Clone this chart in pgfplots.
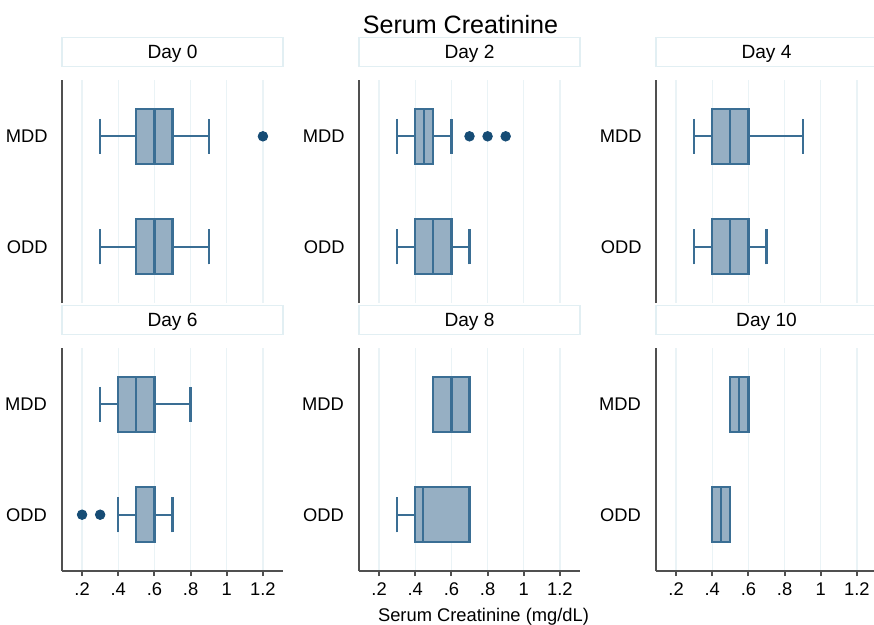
\documentclass[border=0pt]{standalone}
\usepackage{fontspec}
\setmainfont{Liberation Sans}
\usepackage{pgfplots}
\pgfplotsset{compat=1.18}
\usepgfplotslibrary{statistics}
\definecolor{boxc}{RGB}{150,175,195}
\definecolor{edgec}{RGB}{58,110,148}
\definecolor{outc}{RGB}{22,76,117}
\definecolor{gridc}{RGB}{234,243,246}
\definecolor{stripc}{RGB}{226,239,243}
\definecolor{axc}{RGB}{80,80,80}
\pgfplotsset{
  panel/.style={
    scale only axis, width=110.5bp, height=111.5bp,
    anchor=south west,
    xmin=0.089, xmax=1.311, ymin=0.49, ymax=2.51,
    xtick={0.2,0.4,0.6,0.8,1,1.2},
    ytick={1,2}, yticklabels={ODD,MDD},
    xmajorgrids, major grid style={draw=gridc, line width=0.7bp},
    axis y line=left, axis x line*=bottom,
    axis line style={-, draw=axc, line width=1.2bp},
    y axis line style={-, draw=axc, line width=1.2bp},
    ytick style={draw=none},
    tick label style={font=\fontsize{9.2}{11}\selectfont},
    /pgf/number format/assume math mode=true,
    yticklabel style={xshift=-1.5bp},
    title style={at={(0.5,1)}, anchor=south, yshift=0.5bp, draw=stripc, fill=white,
      line width=0.6bp, minimum width=110.5bp, minimum height=14.5bp, inner sep=0pt,
      text height=6.9bp, text depth=0pt, font=\fontsize{9.6}{11.5}\selectfont},
    clip=false,
    boxplot/box extend=0.5, boxplot/whisker extend=0.32,
  },
  toprow/.style={panel, x axis line style={draw=none}, xtick style={draw=none}, xticklabels={}},
  botrow/.style={panel, xticklabels={.2,.4,.6,.8,1,1.2},
    x axis line style={-, draw=axc, line width=1.2bp},
    xtick style={draw=axc, line width=1bp}, tick align=outside, major tick length=2.5bp},
  bx/.style={draw=edgec, fill=boxc, line width=1.1bp, mark=*, mark size=2.4bp,
    mark options={draw=outc, fill=outc, line width=0.4bp, solid}},
}
\begin{document}
\begin{tikzpicture}
% ---------- Day 0
\begin{axis}[toprow, at={(31bp,-151.5bp)}, title={Day 0}]
\addplot[bx, boxplot prepared={draw position=2, lower whisker=0.3, lower quartile=0.5, median=0.6, upper quartile=0.7, upper whisker=0.9}]
  table[row sep=\\, y index=0] {data\\ 1.2\\};
\addplot[bx, boxplot prepared={draw position=1, lower whisker=0.3, lower quartile=0.5, median=0.6, upper quartile=0.7, upper whisker=0.9}]
  coordinates {};
\end{axis}
% ---------- Day 2
\begin{axis}[toprow, at={(179.5bp,-151.5bp)}, title={Day 2}]
\addplot[bx, boxplot prepared={draw position=2, lower whisker=0.3, lower quartile=0.4, median=0.45, upper quartile=0.5, upper whisker=0.6}]
  table[row sep=\\, y index=0] {data\\ 0.7\\ 0.8\\ 0.9\\};
\addplot[bx, boxplot prepared={draw position=1, lower whisker=0.3, lower quartile=0.4, median=0.5, upper quartile=0.6, upper whisker=0.7}]
  coordinates {};
\end{axis}
% ---------- Day 4
\begin{axis}[toprow, at={(328bp,-151.5bp)}, title={Day 4}]
\addplot[bx, boxplot prepared={draw position=2, lower whisker=0.3, lower quartile=0.4, median=0.5, upper quartile=0.6, upper whisker=0.9}]
  coordinates {};
\addplot[bx, boxplot prepared={draw position=1, lower whisker=0.3, lower quartile=0.4, median=0.5, upper quartile=0.6, upper whisker=0.7}]
  coordinates {};
\end{axis}
% ---------- Day 6
\begin{axis}[botrow, at={(31bp,-285.5bp)}, title={Day 6}]
\addplot[bx, boxplot prepared={draw position=2, lower whisker=0.3, lower quartile=0.4, median=0.5, upper quartile=0.6, upper whisker=0.8}]
  coordinates {};
\addplot[bx, boxplot prepared={draw position=1, lower whisker=0.4, lower quartile=0.5, median=0.5, upper quartile=0.6, upper whisker=0.7}]
  table[row sep=\\, y index=0] {data\\ 0.2\\ 0.3\\};
\end{axis}
% ---------- Day 8
\begin{axis}[botrow, at={(179.5bp,-285.5bp)}, title={Day 8}]
\addplot[bx, boxplot prepared={draw position=2, lower whisker=0.5, lower quartile=0.5, median=0.6, upper quartile=0.7, upper whisker=0.7}]
  coordinates {};
\addplot[bx, boxplot prepared={draw position=1, lower whisker=0.3, lower quartile=0.4, median=0.445, upper quartile=0.7, upper whisker=0.7}]
  coordinates {};
\end{axis}
% ---------- Day 10
\begin{axis}[botrow, at={(328bp,-285.5bp)}, title={Day 10}]
\addplot[bx, boxplot prepared={draw position=2, lower whisker=0.5, lower quartile=0.5, median=0.55, upper quartile=0.6, upper whisker=0.6}]
  coordinates {};
\addplot[bx, boxplot prepared={draw position=1, lower whisker=0.4, lower quartile=0.4, median=0.45, upper quartile=0.5, upper whisker=0.5}]
  coordinates {};
\end{axis}
\node[anchor=base, font=\fontsize{12.6}{15}\selectfont] at (230.25bp,-16.5bp) {Serum Creatinine};
\node[anchor=base, font=\fontsize{9.2}{11}\selectfont] at (241.75bp,-310.5bp) {Serum Creatinine (mg/dL)};
\pgfresetboundingbox
\useasboundingbox (0,0) rectangle (437bp,-312.5bp);
\end{tikzpicture}
\end{document}
